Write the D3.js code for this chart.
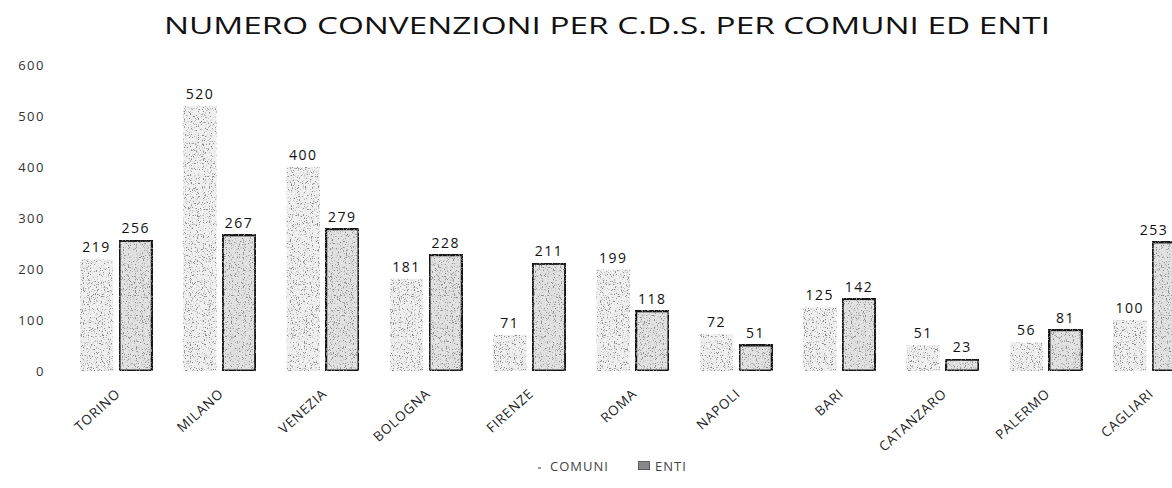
<!DOCTYPE html>
<html>
<head>
<meta charset="utf-8">
<script src="https://cdn.jsdelivr.net/npm/d3@7/dist/d3.min.js"></script>
<style>
  body { margin:0; background:#fff; }
  text { font-family: "Open Sans", "DejaVu Sans", sans-serif; }
</style>
</head>
<body>
<div id="chart"></div>
<script>
var categories = ["TORINO","MILANO","VENEZIA","BOLOGNA","FIRENZE","ROMA","NAPOLI","BARI","CATANZARO","PALERMO","CAGLIARI"];
var series = ["COMUNI","ENTI"];
var comuni = [219,520,400,181,71,199,72,125,51,56,100];
var enti = [256,267,279,228,211,118,51,142,23,81,253];
var yTicks = [0,100,200,300,400,500,600];

var width = 1172, height = 488;
var svg = d3.select("#chart").append("svg").attr("width", width).attr("height", height);

// speckle texture like the scanned original
var defs = svg.append("defs");
var f = defs.append("filter").attr("id","grain")
    .attr("x",0).attr("y",0).attr("width",1).attr("height",1);
f.append("feTurbulence").attr("type","fractalNoise").attr("baseFrequency",0.85)
    .attr("numOctaves",2).attr("seed",4).attr("result","noise");
f.append("feColorMatrix").attr("in","noise").attr("type","matrix")
    .attr("values","0 0 0 0 0.25  0 0 0 0 0.25  0 0 0 0 0.25  7 0 0 0 -3.95")
    .attr("result","dots");
f.append("feComposite").attr("in","dots").attr("in2","SourceAlpha").attr("operator","in").attr("result","cut");
var m = f.append("feMerge");
m.append("feMergeNode").attr("in","SourceGraphic");
m.append("feMergeNode").attr("in","cut");

var x0 = d3.scaleBand().domain(categories).range([64.5, 1201]).paddingInner(0.3).paddingOuter(0.15);
var x1 = d3.scaleBand().domain(series).range([0, x0.bandwidth()]).paddingInner(0.15);
var y = d3.scaleLinear().domain([0, 600]).range([371, 65]);

var data = categories.map(function(c, i) {
  return { cat: c, values: [ {key:"COMUNI", v: comuni[i]}, {key:"ENTI", v: enti[i]} ] };
});

// title (glyphs stretched like the scan)
svg.append("text")
  .attr("x", 607).attr("y", 34)
  .attr("text-anchor","middle")
  .attr("font-size","23px").attr("fill","#111")
  .attr("textLength", 886).attr("lengthAdjust","spacingAndGlyphs")
  .text("NUMERO CONVENZIONI PER C.D.S. PER COMUNI ED ENTI");

// y axis (labels only)
var gy = svg.append("g").attr("transform","translate(45,0)")
  .call(d3.axisLeft(y).tickValues(yTicks).tickSize(0).tickPadding(0));
gy.select(".domain").remove();
gy.selectAll("text").attr("font-size","13px").attr("fill","#333")
  .style("font-family","'Open Sans', sans-serif")
  .style("letter-spacing","1.5px");

// x axis (rotated labels)
var gx = svg.append("g").attr("transform","translate(0,371)")
  .call(d3.axisBottom(x0).tickSize(0).tickPadding(0));
gx.select(".domain").remove();
gx.selectAll("text")
  .attr("font-size","13.5px").attr("fill","#222")
  .style("font-family","'Open Sans', sans-serif")
  .style("letter-spacing","0.8px")
  .attr("text-anchor","end")
  .attr("dy", 0)
  .attr("transform","translate(5,24) rotate(-42)");

var groups = svg.selectAll(".grp")
  .data(data)
  .enter().append("g")
  .attr("class","grp")
  .attr("transform", function(d) { return "translate(" + x0(d.cat) + ",0)"; });

groups.selectAll("rect")
  .data(function(d) { return d.values; })
  .enter().append("rect")
  .attr("x", function(d) { return x1(d.key); })
  .attr("y", function(d) { return y(d.v); })
  .attr("width", x1.bandwidth())
  .attr("height", function(d) { return y(0) - y(d.v); })
  .attr("fill", function(d) { return d.key == "ENTI" ? "#e2e2e2" : "#f0f0f0"; })
  .attr("stroke", function(d) { return d.key == "ENTI" ? "#151515" : "none"; })
  .attr("stroke-width", 3)
  .attr("filter","url(#grain)");

groups.selectAll(".lbl")
  .data(function(d) { return d.values; })
  .enter().append("text")
  .attr("class","lbl")
  .attr("x", function(d, i, nodes) {
    var g = d3.select(nodes[i].parentNode).datum();
    var cx = x0(g.cat) + x1(d.key) + x1.bandwidth() / 2;
    return Math.min(cx, width - 18) - x0(g.cat);
  })
  .attr("y", function(d) { return y(d.v) - 7; })
  .attr("text-anchor","middle")
  .attr("font-size","14px").attr("fill","#111")
  .style("letter-spacing","1.5px")
  .text(function(d) { return d.v; });

// legend
var lg = svg.append("g").attr("transform","translate(0,471)");
lg.append("rect").attr("x",538).attr("y",-4).attr("width",3).attr("height",2).attr("fill","#999");
lg.append("text").attr("x",550).attr("y",0).attr("font-size","13px").attr("fill","#444")
  .style("letter-spacing","1px").text("COMUNI");
lg.append("rect").attr("x",638).attr("y",-10).attr("width",12).attr("height",9)
  .attr("fill","#888").attr("stroke","#333").attr("stroke-width",1).attr("filter","url(#grain)");
lg.append("text").attr("x",655).attr("y",0).attr("font-size","13px").attr("fill","#444")
  .style("letter-spacing","1px").text("ENTI");
</script>
</body>
</html>
